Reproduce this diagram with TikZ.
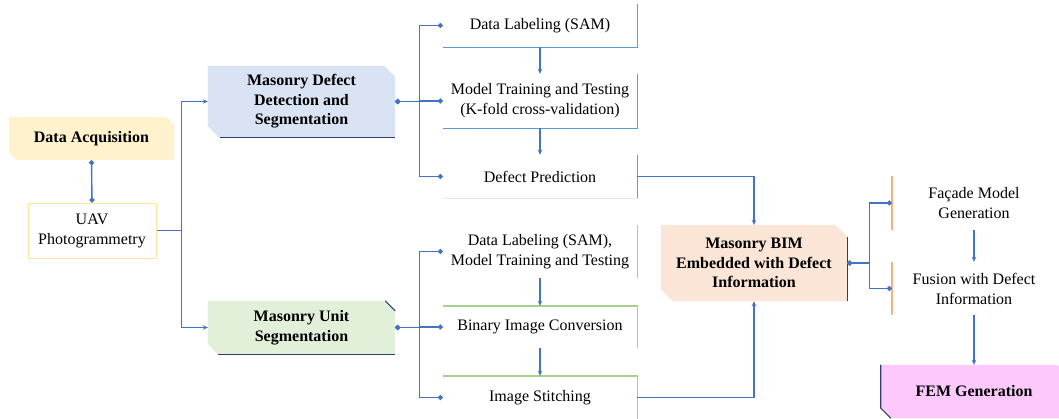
\documentclass[tikz,border=0pt]{standalone}
\usepackage{fontspec}
\setmainfont{Liberation Serif}
\usetikzlibrary{arrows.meta,backgrounds,calc}
\definecolor{lineblue}{HTML}{4472C4}
\definecolor{edgeblue}{HTML}{5B9BD5}
\definecolor{paleblue}{HTML}{DEEBF7}
\definecolor{acqfill}{HTML}{FFF2CC}
\definecolor{uavedge}{HTML}{FFE699}
\definecolor{mddfill}{HTML}{DAE3F3}
\definecolor{musfill}{HTML}{E2F0D9}
\definecolor{bimfill}{HTML}{FBE5D6}
\definecolor{femfill}{HTML}{FDC9FD}
\definecolor{darkedge}{HTML}{2F3F6B}
\definecolor{greenedge}{HTML}{A9D18E}
\definecolor{orangeedge}{HTML}{F4B183}
\newcommand{\cutfill}[3]{\fill[#2] ([xshift=-#3]#1.north east) -- ([yshift=-#3]#1.north east) -- (#1.south east) -- ([xshift=#3]#1.south west) -- ([yshift=#3]#1.south west) -- (#1.north west) -- cycle;}
\tikzset{
 box/.style={inner sep=0pt, align=center, font=\fontsize{16}{20}\selectfont},
 bbox/.style={inner sep=0pt, align=center, font=\fontsize{16}{19.5}\selectfont\bfseries},
 conn/.style={draw=lineblue, line width=1.4pt},
 arr/.style={conn, -{Stealth[length=5pt,width=4.5pt]}},
 dotarr/.style={conn, {Circle[length=5pt]}-{Circle[length=5pt]}},
 edge/.style={line width=1.4pt},
}
\begin{document}
\begin{tikzpicture}[x=1pt,y=-1pt]
\useasboundingbox (0,0) rectangle (1059,418);
% nodes
\node[bbox, minimum width=165pt, minimum height=43pt] (acq) at (91.5,138.5) {Data Acquisition};
\node[box, minimum width=128pt, minimum height=55pt, draw=uavedge, line width=1pt] (uav) at (92,230.5) {UAV\\Photogrammetry};
\node[bbox, minimum width=187pt, minimum height=71pt] (mdd) at (301.5,101.5) {Masonry Defect\\Detection and\\Segmentation};
\node[bbox, minimum width=187pt, minimum height=53pt] (mus) at (301.5,327.5) {Masonry Unit\\Segmentation};
\node[box, minimum width=194pt, minimum height=43pt] (dl1) at (540,25.5) {Data Labeling (SAM)};
\node[box, minimum width=194pt, minimum height=54pt] (mt) at (540,101) {Model Training and Testing\\(K-fold cross-validation)};
\node[box, minimum width=194pt, minimum height=43pt] (dp) at (540,176.5) {Defect Prediction};
\node[box, minimum width=194pt, minimum height=53pt] (dl2) at (540,251.5) {Data Labeling (SAM),\\Model Training and Testing};
\node[box, minimum width=194pt, minimum height=42pt] (bic) at (540,327) {Binary Image Conversion};
\node[box, minimum width=194pt, minimum height=43pt] (ist) at (540,397.5) {Image Stitching};
\node[bbox, minimum width=186pt, minimum height=76pt] (bim) at (754,263) {Masonry BIM\\Embedded with Defect\\Information};
\node[box, minimum width=164pt, minimum height=54pt] (fmg) at (974,203) {Façade Model\\Generation};
\node[box, minimum width=164pt, minimum height=53pt] (fdi) at (974,288.5) {Fusion with Defect\\Information};
\node[bbox, minimum width=186pt, minimum height=53pt] (fem) at (974,391.5) {FEM Generation};
% backgrounds
\begin{scope}[on background layer]
\clip (0,0) rectangle (1059,418);
\cutfill{acq}{acqfill}{8pt}
\cutfill{mdd}{mddfill}{11pt}
\cutfill{mus}{musfill}{10pt}
\cutfill{bim}{bimfill}{12pt}
\cutfill{fem}{femfill}{10pt}
\end{scope}
% dark shadow edges
\draw[edge, darkedge, line width=1.2pt] ([xshift=12pt]mdd.south west) -- (mdd.south east);
\draw[edge, darkedge, line width=1.2pt] ([xshift=10pt]mus.south west) -- (mus.south east);
\draw[edge, darkedge, line width=1pt] ([xshift=-10pt]mus.north east) -- ([yshift=-10pt]mus.north east);
\draw[edge, darkedge, line width=1.2pt] ([yshift=-12pt]bim.north east) -- (bim.south east);
\draw[edge, darkedge, line width=1.2pt] (fem.north west) -- ([yshift=10pt]fem.south west) -- ([xshift=10pt]fem.south west);
% partial box edges
\draw[edge, edgeblue] (dl1.north east) -- (dl1.south east) -- (dl1.south west);
\draw[edge, edgeblue] (mt.north east) -- (mt.south east) -- (mt.south west);
\draw[edge, edgeblue] (dp.north east) -- (dp.south east);
\draw[edge, paleblue] (dp.south east) -- (dp.south west);
\draw[edge, greenedge] (dl2.north east) -- (dl2.south east);
\draw[edge, greenedge] (bic.north west) -- (bic.north east) -- (bic.south east);
\draw[edge, greenedge] (ist.north west) -- (ist.north east) -- (ist.south east);
\draw[edge, orangeedge] (fmg.north west) -- (fmg.south west);
\draw[edge, orangeedge] (fdi.north west) -- (fdi.south west);
% connectors
\draw[dotarr] (acq.south) -- (uav.north);
\draw[arr] (uav.east) -- ++(25,0) |- (mdd.west);
\draw[arr] (uav.east) -- ++(25,0) |- (mus.west);
\draw[dotarr] (mdd.east) -- ++(24,0) |- (dl1.west);
\draw[dotarr] (mdd.east) -- ++(24,0) |- (mt.west);
\draw[dotarr] (mdd.east) -- ++(24,0) |- (dp.west);
\draw[arr] (dl1.south) -- (mt.north);
\draw[arr] (mt.south) -- (dp.north);
\draw[arr] (dp.east) -| (bim.north);
\draw[dotarr] (mus.east) -- ++(24,0) |- (dl2.west);
\draw[dotarr] (mus.east) -- ++(24,0) |- (bic.west);
\draw[dotarr] (mus.east) -- ++(24,0) |- (ist.west);
\draw[arr] (dl2.south) -- (bic.north);
\draw[arr] (bic.south) -- (ist.north);
\draw[arr] (ist.east) -| (bim.south);
\draw[dotarr] (bim.east) -- ++(22,0) |- (fmg.west);
\draw[dotarr] (bim.east) -- ++(22,0) |- (fdi.west);
\draw[arr] (fmg.south) -- (fdi.north);
\draw[arr] (fdi.south) -- (fem.north);
\end{tikzpicture}
\end{document}
